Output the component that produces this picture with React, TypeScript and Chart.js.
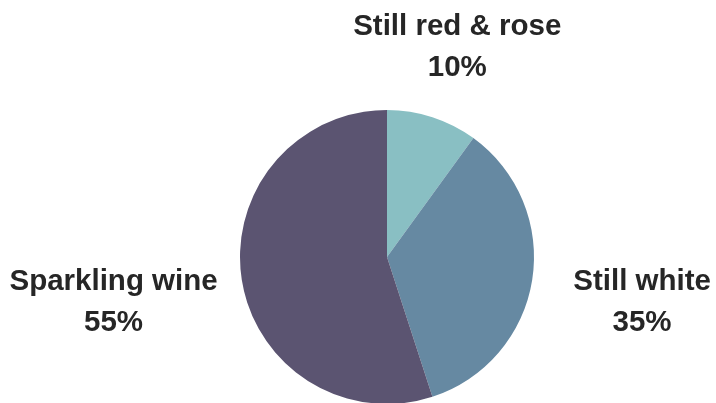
import React, { useEffect, useRef } from "react";
import { Chart, registerables } from "chart.js";

Chart.register(...registerables);

const categories = ["Still red & rose", "Still white", "Sparkling wine"];
const shares = [10, 35, 55];
const sliceColors = ["#89BFC3", "#6689A2", "#5B5471"];

const labelPlugin = {
  id: "outsideLabels",
  afterDraw(chart: any) {
    const ctx = chart.ctx;
    const meta = chart.getDatasetMeta(0);
    const data = chart.data.datasets[0].data as number[];
    const total = data.reduce((a: number, b: number) => a + b, 0);
    ctx.save();
    ctx.font = "bold 29.5px 'Liberation Sans', Arial, sans-serif";
    ctx.fillStyle = "#262626";
    ctx.textAlign = "center";
    ctx.textBaseline = "middle";
    const lineGap = 41;
    meta.data.forEach((arc: any, i: number) => {
      const p = arc.getProps(["x", "y", "startAngle", "endAngle", "outerRadius"], true);
      const mid = (p.startAngle + p.endAngle) / 2;
      const c = Math.cos(mid);
      const s = Math.sin(mid);
      const line1 = String(chart.data.labels[i]);
      const line2 = Math.round((data[i] / total) * 100) + "%";
      const w = Math.max(ctx.measureText(line1).width, ctx.measureText(line2).width);
      const cx = p.x + c * (p.outerRadius + 75 + 0.54 * (w / 2) * c * c);
      const cy = p.y + s * (p.outerRadius + 77) + 3 + 8 * c * c;
      ctx.fillText(line1, cx, cy - lineGap / 2);
      ctx.fillText(line2, cx, cy + lineGap / 2);
    });
    ctx.restore();
  },
};

export default function App() {
  const ref = useRef<HTMLCanvasElement | null>(null);
  useEffect(() => {
    document.body.style.margin = "0";
    const chart = new Chart(ref.current as HTMLCanvasElement, {
      type: "pie",
      data: {
        labels: categories,
        datasets: [
          {
            data: shares,
            backgroundColor: sliceColors,
            borderWidth: 0,
          },
        ],
      },
      options: {
        animation: false,
        responsive: false,
        layout: { padding: { top: 110, bottom: 4, left: 239, right: 181 } },
        plugins: { legend: { display: false }, tooltip: { enabled: false } },
      },
      plugins: [labelPlugin],
    });
    return () => chart.destroy();
  }, []);
  return (
    <div style={{ position: "absolute", left: 0, top: 0, width: 716, height: 403, overflow: "hidden", background: "#fff" }}>
      <canvas ref={ref} width={716} height={408} style={{ display: "block" }} />
    </div>
  );
}
